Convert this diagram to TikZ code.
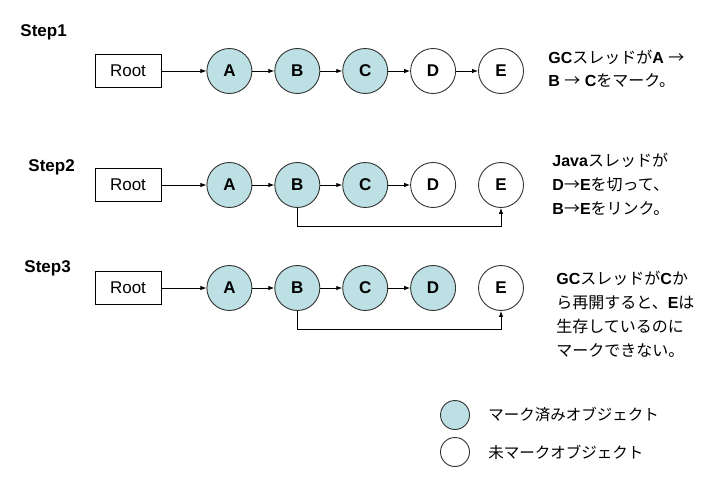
\documentclass[tikz,border=0pt]{standalone}
\usepackage{fontspec}
\setmainfont{Liberation Sans}
\newfontfamily\jp{Noto Sans CJK JP}
\newcommand{\jt}[1]{{\jp #1}}
\usetikzlibrary{arrows.meta,positioning}
\definecolor{mkA}{HTML}{BCE0E3}
\definecolor{lnA}{HTML}{333333}

\begin{document}
\begin{tikzpicture}[x=1pt,y=-1pt,node distance=22pt,line width=0.9pt,
  ob/.style={circle,draw=lnA,minimum size=45pt,inner sep=0pt,font=\fontsize{17}{17}\selectfont\bfseries},
  mk/.style={ob,fill=mkA},
  rt/.style={draw,minimum width=66pt,minimum height=33pt,inner sep=0pt,font=\fontsize{17}{17}\selectfont},
  lk/.style={-{Latex[length=6pt,width=4.5pt]}},
  stp/.style={anchor=west,inner sep=0pt,font=\fontsize{17}{17}\selectfont\bfseries},
  nt/.style={anchor=west,align=left,inner sep=0pt,font=\fontsize{16}{23}\selectfont}]
\useasboundingbox (0,0) rectangle (720,487);
% Step1
\node[stp] (s1) at (20,32) {Step1};
\node[rt] (r1) at (128,71) {Root};
\node[mk,right=45pt of r1] (a1) {A};
\node[mk,right=of a1] (b1) {B};
\node[mk,right=of b1] (c1) {C};
\node[ob,right=of c1] (d1) {D};
\node[ob,right=of d1] (e1) {E};
\draw[lk] (r1)--(a1);
\draw[lk] (a1)--(b1);
\draw[lk] (b1)--(c1);
\draw[lk] (c1)--(d1);
\draw[lk] (d1)--(e1);
\node[nt] (t1) at (548,69) {\textbf{GC}\jt{スレッドが}\textbf{A} \jt{→}\\\textbf{B} \jt{→} \textbf{C}\jt{をマーク。}};
% Step2
\node[stp] (s2) at (28,167) {Step2};
\node[rt] (r2) at (128,185) {Root};
\node[mk,right=45pt of r2] (a2) {A};
\node[mk,right=of a2] (b2) {B};
\node[mk,right=of b2] (c2) {C};
\node[ob,right=of c2] (d2) {D};
\node[ob,right=of d2] (e2) {E};
\draw[lk] (r2)--(a2);
\draw[lk] (a2)--(b2);
\draw[lk] (b2)--(c2);
\draw[lk] (c2)--(d2);
\draw[lk] (b2.south)--++(0,18.5)-|(e2.south);
\node[nt,font=\fontsize{16}{24}\selectfont] (t2) at (552,184) {\textbf{Java}\jt{スレッドが}\\\textbf{D}\jt{→}\textbf{E}\jt{を切って、}\\\textbf{B}\jt{→}\textbf{E}\jt{をリンク。}};
% Step3
\node[stp] (s3) at (24,268) {Step3};
\node[rt] (r3) at (128,288) {Root};
\node[mk,right=45pt of r3] (a3) {A};
\node[mk,right=of a3] (b3) {B};
\node[mk,right=of b3] (c3) {C};
\node[mk,right=of c3] (d3) {D};
\node[ob,right=of d3] (e3) {E};
\draw[lk] (r3)--(a3);
\draw[lk] (a3)--(b3);
\draw[lk] (b3)--(c3);
\draw[lk] (c3)--(d3);
\draw[lk] (b3.south)--++(0,18.5)-|(e3.south);
\node[nt,font=\fontsize{16}{24}\selectfont] (t3) at (556,314) {\textbf{GC}\jt{スレッドが}\textbf{C}\jt{か}\\\jt{ら再開すると、}\textbf{E}\jt{は}\\\jt{生存しているのに}\\\jt{マークできない。}};
% legend
\node[mk,minimum size=29pt] (lg1) at (455,415) {};
\node[ob,minimum size=29pt] (lg2) at (455,452) {};
\node[nt,font=\fontsize{15.5}{16}\selectfont,right=18pt of lg1] (lt1) {\jt{マーク済みオブジェクト}};
\node[nt,font=\fontsize{15.5}{16}\selectfont,right=18pt of lg2] (lt2) {\jt{未マークオブジェクト}};
\end{tikzpicture}
\end{document}
